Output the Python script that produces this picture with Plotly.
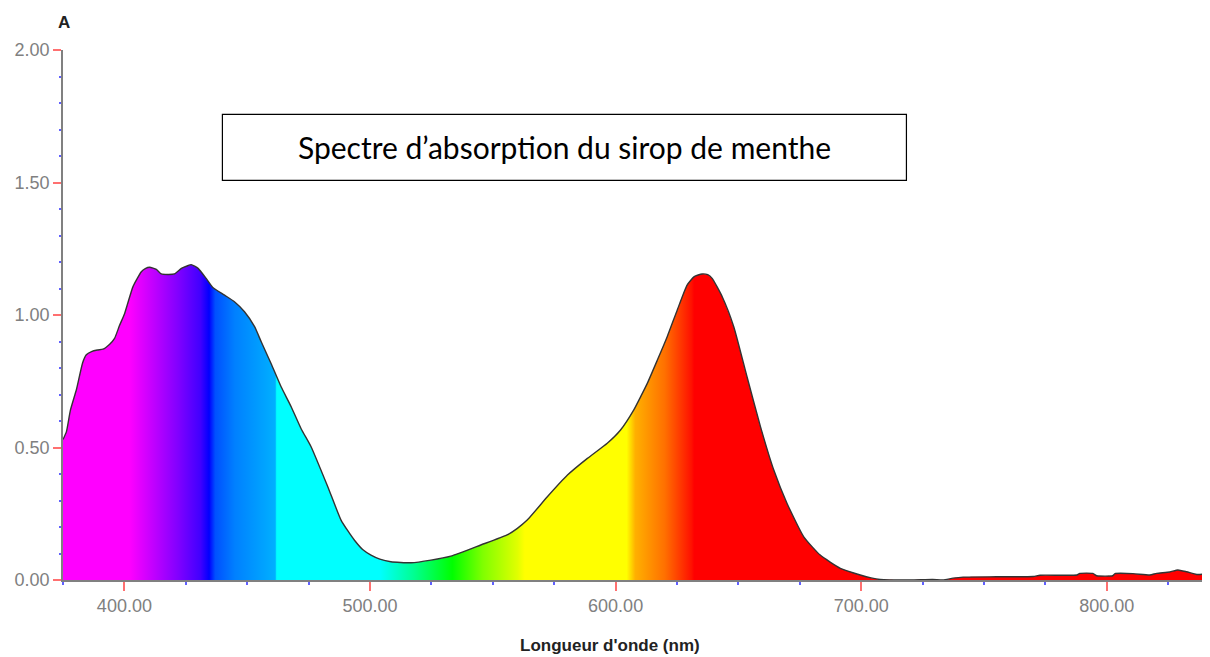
import plotly.graph_objects as go

# ---- data ----
wavelength_nm = [375, 376.4, 378, 380.5, 383, 384.5, 386.6, 389, 391.3, 394, 396, 398, 400.1,
                 403.5, 406.9, 408.5, 410.3, 413, 415, 418, 420.4, 423.2, 425.5, 427.2, 430,
                 433.3, 436, 440.8, 444.8, 448.9, 453, 455.7, 459.8, 463.8, 467.9, 472, 476,
                 482.8, 488.2, 491, 493.6, 497, 500.4, 504, 508.5, 516.7, 524.8, 532.9, 545.1,
                 555.8, 560, 564, 572.2, 580.4, 588.5, 596.6, 602, 607.4, 610.2, 612.9, 617,
                 621, 625.1, 629.1, 632, 635.2, 637.5, 639.3, 643.4, 648.1, 653.5, 659, 664.4,
                 669.8, 676.6, 683.3, 691.5, 699.6, 704, 707.7, 720, 729, 733.3, 737.4, 741.5,
                 755, 770, 772.8, 787.8, 789, 794.3, 795.9, 802.4, 803.3, 810.6, 817.5, 820.3,
                 825.6, 828.9, 832.5, 836.6, 839.8, 842]
absorbance = [0.53, 0.56, 0.64, 0.72, 0.82, 0.85, 0.862, 0.868, 0.871, 0.89, 0.912, 0.96, 1.006,
              1.107, 1.163, 1.175, 1.18, 1.172, 1.155, 1.153, 1.155, 1.176, 1.185, 1.19, 1.176,
              1.138, 1.104, 1.075, 1.05, 1.012, 0.956, 0.899, 0.815, 0.729, 0.654, 0.57, 0.503,
              0.352, 0.226, 0.185, 0.151, 0.115, 0.094, 0.079, 0.069, 0.065, 0.075, 0.09, 0.132,
              0.17, 0.195, 0.226, 0.314, 0.396, 0.459, 0.516, 0.566, 0.642, 0.692, 0.742, 0.83,
              0.918, 1.019, 1.113, 1.145, 1.155, 1.152, 1.138, 1.069, 0.956, 0.767, 0.578, 0.415,
              0.289, 0.163, 0.094, 0.044, 0.019, 0.008, 0.002, 0.0, 0.002, 0.0, 0.007, 0.011,
              0.012, 0.013, 0.018, 0.019, 0.025, 0.025, 0.016, 0.016, 0.024, 0.024, 0.019, 0.025,
              0.03, 0.038, 0.031, 0.021, 0.023, 0.028]

# spectrum colours (wavelength in nm -> colour)
spectrum_nm = [375, 402, 412, 422, 431, 434.5, 437, 445, 461.4, 462, 504, 518, 533.5, 546,
               560, 563, 604.5, 608, 620, 631, 632, 842]
spectrum_colors = ["#FF00FF", "#FF00FF", "#C000FF", "#8000FF", "#4000FF", "#0000FF", "#0050FF",
                   "#0080FF", "#00B0FF", "#00FFFF", "#00FFFF", "#00FF90", "#00FF00", "#80FF00",
                   "#E0FF00", "#FFFF00", "#FFFF00", "#FFB000", "#FF7000", "#FF1000", "#FF0000",
                   "#FF0000"]

x_ticks = [400, 500, 600, 700, 800]
y_ticks = [0.0, 0.5, 1.0, 1.5, 2.0]
x_range = [375, 842]
y_range = [0, 2]

title_text = "Spectre d’absorption du sirop de menthe"
x_label = "Longueur d'onde (nm)"
y_label = "A"

lo, hi = spectrum_nm[0], spectrum_nm[-1]
colorscale = [[(w - lo) / (hi - lo), c] for w, c in zip(spectrum_nm, spectrum_colors)]

fig = go.Figure()
fig.add_trace(go.Scatter(
    x=wavelength_nm, y=absorbance, mode="lines",
    line=dict(color="#333333", width=1.4, shape="spline", smoothing=0.5),
    fill="tozeroy",
    fillgradient=dict(type="horizontal", colorscale=colorscale, start=lo, stop=hi),
    hoverinfo="x+y", showlegend=False,
))

tick_font = dict(family="Liberation Sans, Arial, sans-serif", size=18, color="#808080")

fig.update_xaxes(
    range=x_range, tickvals=x_ticks, tickformat=".2f",
    showgrid=False, zeroline=False,
    showline=True, linecolor="#808080", linewidth=1.5,
    ticks="outside", ticklen=9, tickcolor="#FF7070", tickwidth=1.5,
    minor=dict(dtick=25, tick0=375, ticks="outside", ticklen=3, tickcolor="#6060FF", tickwidth=1.5),
    tickfont=tick_font,
)
fig.update_yaxes(
    range=y_range, tickvals=y_ticks, tickformat=".2f",
    showgrid=False, zeroline=False,
    showline=True, linecolor="#808080", linewidth=1.5,
    ticks="outside", ticklen=8, tickcolor="#FF7070", tickwidth=1.5,
    minor=dict(dtick=0.1, ticks="outside", ticklen=2, tickcolor="#6060FF", tickwidth=1.5),
    tickfont=tick_font,
)

# title box
fig.add_shape(type="rect", xref="x", yref="y", x0=439.9, x1=718.4, y0=1.508, y1=1.757,
              line=dict(color="#000000", width=1.2), fillcolor="white", layer="above")
fig.add_annotation(x=(439.9 + 718.4) / 2, y=(1.508 + 1.757) / 2, xref="x", yref="y",
                   text=title_text, showarrow=False,
                   font=dict(family="Lato, Carlito, sans-serif", size=30, color="#000000"))

# axis labels
fig.add_annotation(x=(610 - 63) / 1147, y=-(645 - 580) / 530, xref="paper", yref="paper",
                   text="<b>" + x_label + "</b>", showarrow=False, yanchor="middle",
                   font=dict(family="Liberation Sans, Arial, sans-serif", size=17, color="#222222"))
fig.add_annotation(x=(64 - 63) / 1147, y=1 + (50 - 22) / 530, xref="paper", yref="paper",
                   text="<b>" + y_label + "</b>", showarrow=False, xanchor="center", yanchor="middle",
                   font=dict(family="Liberation Sans, Arial, sans-serif", size=17, color="#222222"))

# the page adds an 8 px body margin, so the figure is drawn 8 px inset
fig.update_layout(
    width=1202, height=649,
    margin=dict(l=55, r=0, t=42, b=77),
    paper_bgcolor="white", plot_bgcolor="white",
)

fig.write_html("out.html")
